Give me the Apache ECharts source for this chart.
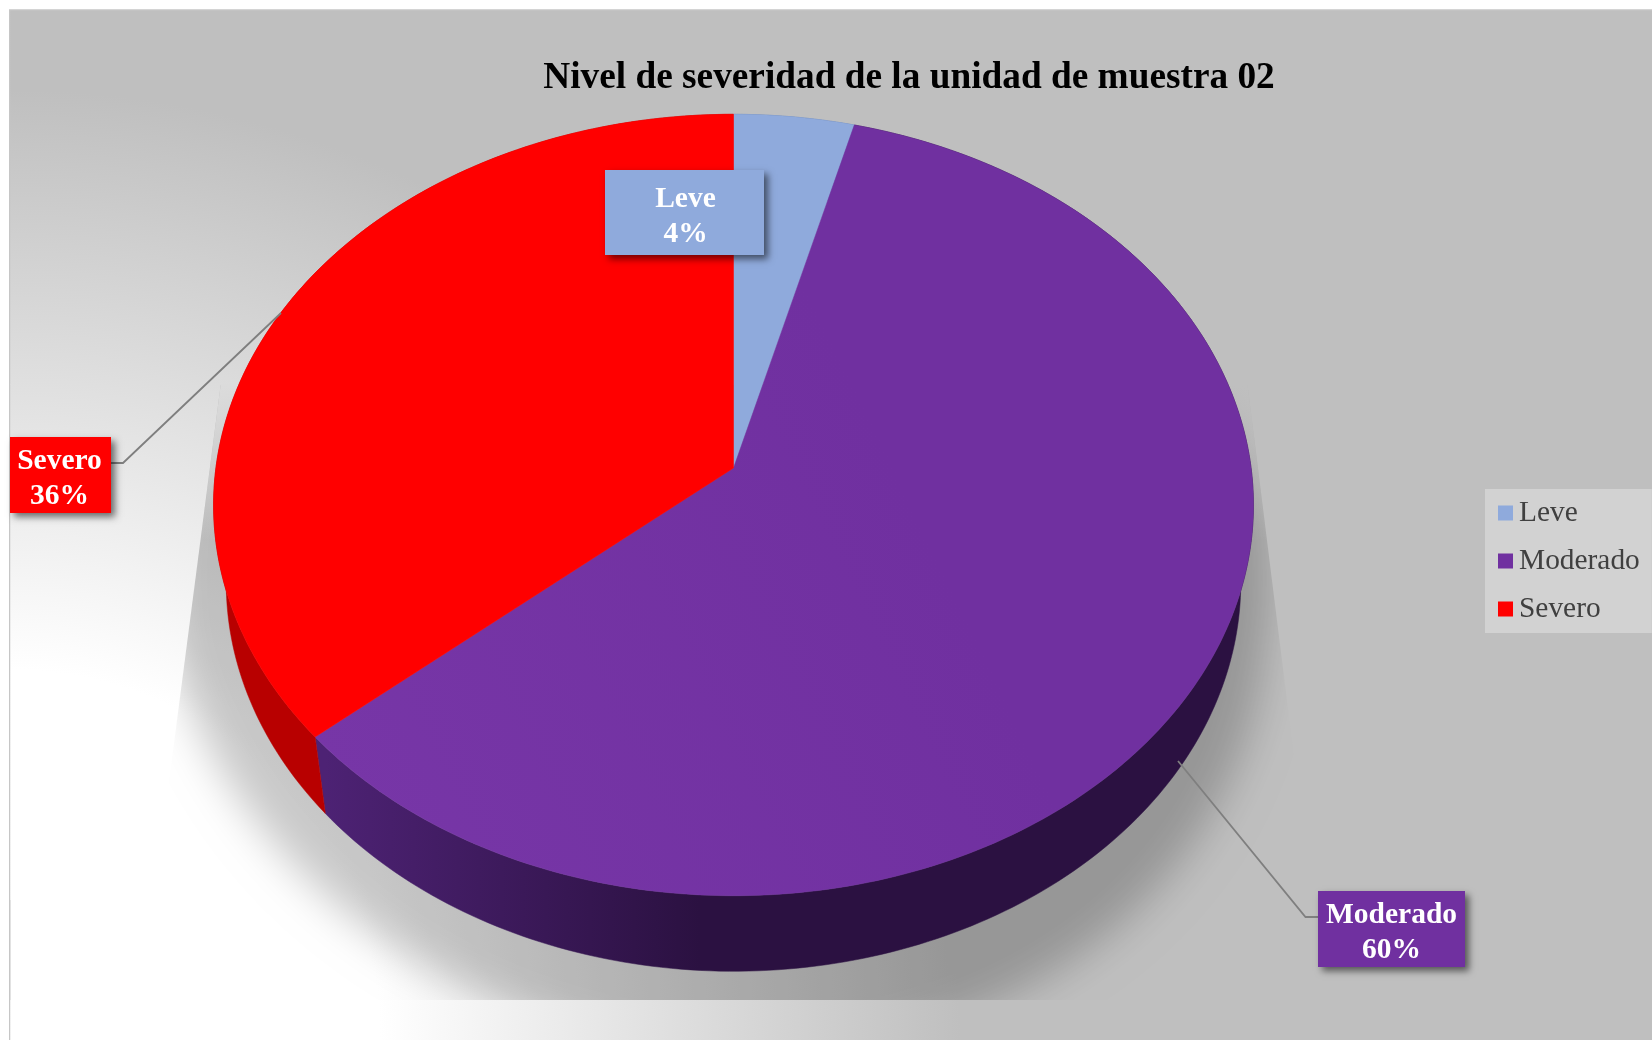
<!DOCTYPE html>
<html>
<head>
<meta charset="utf-8">
<style>html,body{margin:0;padding:0;background:#fff}#c{width:1652px;height:1040px}</style>
<script src="https://cdn.jsdelivr.net/npm/echarts@6/dist/echarts.min.js"></script>
</head>
<body>
<div id="c"></div>
<script>
const chartTitle = 'Nivel de severidad de la unidad de muestra 02';
const categories = ['Leve', 'Moderado', 'Severo'];
const values = [4.1, 59.6, 36.3];

const total = values.reduce((s, v) => s + v, 0);
const fracStart = [], fracEnd = [];
values.reduce((acc, v, i) => { fracStart[i] = acc / total; fracEnd[i] = (acc + v) / total; return acc + v; }, 0);

const SERIF = '"Liberation Serif","Times New Roman",serif';
const L = echarts.graphic.LinearGradient;
const R = echarts.graphic.RadialGradient;
const topColors = [
  '#8faadc',
  new L(320, 760, 900, 480, [{offset:0,color:'#7736a7'},{offset:1,color:'#7030a0'}], true),
  '#ff0000'
];
const legendColors = ['#8faadc', '#7030a0', '#ff0000'];
const labelColors = legendColors;
const wallColors = [
  '#5f7aae',
  new L(325, 0, 700, 0, [{offset:0,color:'#4d2274'},{offset:1,color:'#2b1141'}], true),
  '#b80000'
];

// projected disc: top face, bottom face (perspective)
const cx = 733.5, k = 0.0947;
const faceTop = {a:517.6, yc:468, p:-342.9};
const faceBot = {a:505, yc:546, p:-333.3};
function project(frac, f) {
  const t = frac * 2 * Math.PI, u = Math.sin(t), v = Math.cos(t), w = 1 + k * v;
  return [cx + f.a * u / w, (f.yc + f.p * v) / w];
}
function arc(from, to, f) {
  const n = Math.max(2, Math.ceil((to - from) * 360)), pts = [];
  for (let i = 0; i <= n; i++) pts.push(project(from + (to - from) * i / n, f));
  return pts;
}

// background, shadow
const W = 1652, H = 1040;
const bg = () => new R(10, 1040, 950, [{offset:0,color:'#ffffff'},{offset:370/950,color:'#ffffff'},{offset:1,color:'#bfbfbf'}], true);
const shadowEllipse = [];
for (let i = 0; i < 240; i++) {
  const t = i / 240 * 2 * Math.PI;
  const y = 578 + 475 * Math.cos(t);
  shadowEllipse.push([718 + 553 * Math.sin(t) + 0.08 * Math.max(0, y - 650) - 4000, y]);
}
const clipTop = 385, clipBottom = 1000, fadeEnd = 540;
const bgElements = [
  {type:'rect', z:0, shape:{x:9.75, y:10, width:W, height:H}, style:{fill:bg(), stroke:'#c6c6c6', lineWidth:1.5}},
  {type:'polygon', z:1, shape:{points:shadowEllipse},
    style:{fill:'#000', opacity:0.21, shadowColor:'#000', shadowBlur:42, shadowOffsetX:4000}},
  {type:'rect', z:2, shape:{x:10.5, y:10.75, width:W, height:clipTop - 10.75}, style:{fill:bg()}},
  {type:'rect', z:2, shape:{x:10.5, y:clipBottom, width:W, height:H - clipBottom}, style:{fill:bg()}},
  {type:'polygon', z:2, shape:{points:[[10.5,clipTop-1],[220.8,clipTop-1],[153.6,900],[10.5,900]]}, style:{fill:bg()}},
  {type:'polygon', z:2, shape:{points:[[W,clipTop-1],[1247.4,clipTop-1],[1312,900],[W,900]]}, style:{fill:bg()}},
  {type:'polygon', z:3, shape:{points:[[220.8,clipTop-1],[340,clipTop-1],[340,fadeEnd],[200.7,fadeEnd]]},
    style:{fill:new L(0, clipTop, 0, fadeEnd, [{offset:0,color:'rgba(219,219,219,1)'},{offset:0.5,color:'rgba(228,228,228,0.5)'},{offset:1,color:'rgba(236,236,236,0)'}], true)}},
  {type:'polygon', z:3, shape:{points:[[1247.4,clipTop-1],[1130,clipTop-1],[1130,fadeEnd],[1266.9,fadeEnd]]},
    style:{fill:new L(0, clipTop, 0, fadeEnd, [{offset:0,color:'rgba(191,191,191,1)'},{offset:1,color:'rgba(191,191,191,0)'}], true)}}
];

// label boxes and leader lines
const labelBoxes = [
  {x:605, y:170, w:159, h:85, dx:1, leader:null},
  {x:1318, y:891, w:147, h:76, dx:0, leader:[[1318,917],[1305.5,917],[1178,761]]},
  {x:10, y:437, w:101, h:76, dx:-1, leader:[[111,463],[123,463],[281,313]]}
];

const wallSeries = {
  name:'Lateral', type:'custom', coordinateSystem:'none', z:10, silent:true, animation:false,
  data:values.map((v, i) => [i, v]),
  renderItem(params, api) {
    const i = api.value(0);
    const pts = arc(fracStart[i], fracEnd[i], faceTop).concat(arc(fracStart[i], fracEnd[i], faceBot).reverse());
    return {type:'polygon', shape:{points:pts}, style:{fill:wallColors[i], stroke:wallColors[i], lineWidth:0.5}};
  }
};
const topSeries = categories.map((name, i) => ({
  name, type:'custom', coordinateSystem:'none', z:11, animation:false,
  itemStyle:{color:legendColors[i]},
  data:[[values[i]]],
  renderItem() {
    const pts = [[cx, faceTop.yc]].concat(arc(fracStart[i], fracEnd[i], faceTop));
    return {type:'polygon', shape:{points:pts}, style:{fill:topColors[i], stroke:topColors[i], lineWidth:0.5}};
  }
}));
const labelSeries = {
  name:'Etiquetas', type:'custom', coordinateSystem:'none', z:12, silent:true, animation:false,
  data:values.map((v, i) => [i, v]),
  renderItem(params, api) {
    const i = api.value(0), b = labelBoxes[i];
    const children = [];
    if (b.leader) children.push({type:'polyline', shape:{points:b.leader}, style:{fill:null, stroke:'#7f7f7f', lineWidth:1.8}});
    children.push({type:'rect', shape:{x:b.x, y:b.y, width:b.w, height:b.h},
      style:{fill:labelColors[i], shadowColor:'rgba(0,0,0,0.55)', shadowBlur:7, shadowOffsetX:4, shadowOffsetY:4}});
    children.push({type:'text', style:{
      text:categories[i] + '\n' + Math.round(api.value(1) / total * 100) + '%',
      x:b.x + b.w / 2 + b.dx, y:b.y + b.h / 2 + 4, align:'center', verticalAlign:'middle',
      font:'bold 29.5px ' + SERIF, lineHeight:35, fill:'#ffffff'}});
    return {type:'group', children};
  }
};

const chart = echarts.init(document.getElementById('c'), null, {renderer:'canvas'});
chart.setOption({
  animation:false,
  backgroundColor:'#ffffff',
  title:{text:chartTitle, left:904, top:55, textAlign:'center',
    textStyle:{fontFamily:SERIF, fontWeight:'bold', fontSize:37.3, color:'#000'}},
  graphic:{elements:bgElements},
  legend:{
    data:categories, orient:'vertical', left:1485, top:489, padding:[7,12,7,13],
    backgroundColor:'rgba(255,255,255,0.3)', icon:'rect', itemWidth:15, itemHeight:15,
    itemGap:14, selectedMode:false,
    textStyle:{fontFamily:SERIF, fontSize:29.4, color:'#404040', lineHeight:30, padding:[4,0,0,1]}
  },
  series:[wallSeries, ...topSeries, labelSeries]
});
</script>
</body>
</html>
